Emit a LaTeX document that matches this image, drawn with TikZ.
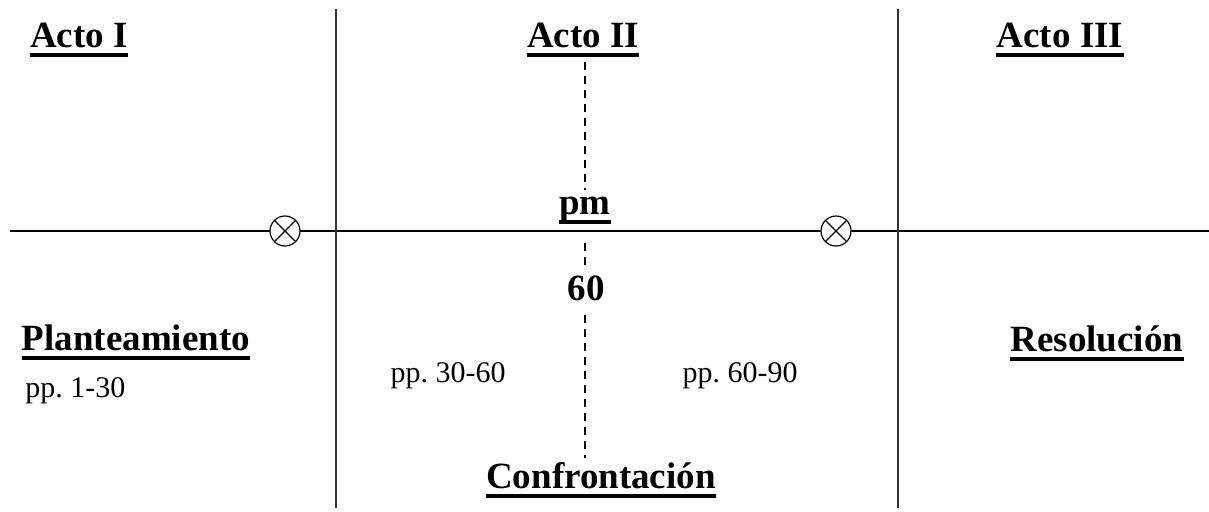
\documentclass[tikz,border=0pt]{standalone}
\usepackage{fontspec}
\setmainfont{Liberation Serif}
\usepackage{tikz}
\usetikzlibrary{calc}

\begin{document}
\begin{tikzpicture}[
  x=0.5pt, y=-0.5pt,
  title/.style={inner sep=0pt, anchor=base,
                font=\bfseries\fontsize{18.5}{22}\selectfont},
  pages/.style={inner sep=0pt, anchor=base,
                font=\fontsize{15}{18}\selectfont},
  axis/.style={line width=1.1pt},
  act/.style={line width=1.3pt, draw=black!80},
  mid/.style={line width=1.2pt, dash pattern=on 4pt off 3pt},
  uline/.style={line width=2pt},
  turn/.style={circle, draw, fill=white, line width=0.6pt,
               minimum size=15pt, inner sep=0pt,
               path picture={\draw[line width=0.6pt]
                 (path picture bounding box.north west) -- (path picture bounding box.south east)
                 (path picture bounding box.north east) -- (path picture bounding box.south west);}},
]
\useasboundingbox (0,0) rectangle (1209,511);

% Time line and act borders
\draw[axis] (10,231) -- (1209,231);
\draw[act]  (336,9) -- (336,508);
\draw[act]  (898,9) -- (898,508);

% Midpoint (dashed)
\draw[mid] (585,62)  -- (585,190);
\draw[mid] (585,243) -- (585,268);
\draw[mid] (585,315) -- (585,458);

% Plot points
\node[turn] at (285,231) (pp1) {};
\node[turn] at (836,231) (pp2) {};

% Act headings
\node[title] at (79,47)   (acto1) {Acto I};
\node[title] at (583,47)  (acto2) {Acto II};
\node[title] at (1060,47) (acto3) {Acto III};

% Midpoint labels
\node[title] at (585,214) (pm)      {pm};
\node[title] at (586,300) (sesenta) {60};

% Acts content
\node[title] at (136,350)  (plant) {Planteamiento};
\node[pages, anchor=base west] at (25,397) (pag1) {pp.\ 1-30};
\node[pages] at (448,382)  (pag2)  {pp.\ 30-60};
\node[pages] at (740,382)  (pag3)  {pp.\ 60-90};
\node[title] at (601,488)  (confr) {Confrontación};
\node[title] at (1097,351) (resol) {Resolución};

% Underlines
\foreach \n in {acto1,acto2,acto3,pm,plant,confr,resol}
  \draw[uline] ($(\n.base west)+(0,8)$) -- ($(\n.base east)+(0,8)$);
\end{tikzpicture}
\end{document}
